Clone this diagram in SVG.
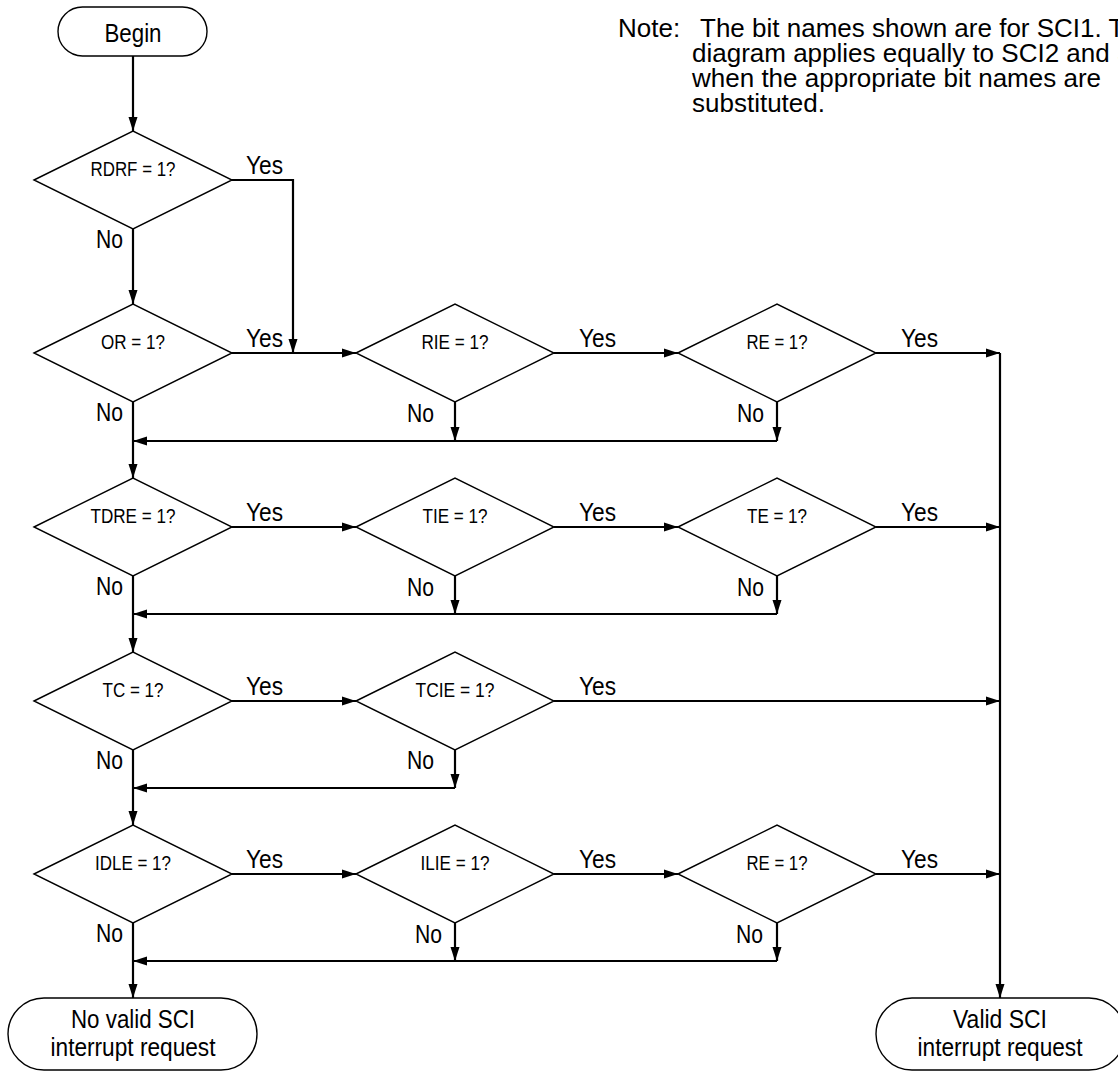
<svg xmlns="http://www.w3.org/2000/svg" width="1118" height="1072" viewBox="0 0 1118 1072">
<defs>
<marker id="ah" markerUnits="userSpaceOnUse" markerWidth="14" markerHeight="10" refX="14" refY="5" orient="auto">
<path d="M0,0.5 L14,5 L0,9.5 z" fill="#000"/>
</marker>
<style>
.shape{fill:#fff;stroke:#000;stroke-width:1.4}
.conn{fill:none;stroke:#000;stroke-width:2.2}
.arr{marker-end:url(#ah)}
.lbl{font-family:"Liberation Sans",Arial,sans-serif;font-size:26px;fill:#000}
.dt{font-family:"Liberation Sans",Arial,sans-serif;font-size:20px;fill:#000;text-anchor:middle}
.tt{font-family:"Liberation Sans",Arial,sans-serif;font-size:26px;fill:#000;text-anchor:middle}
.note{font-family:"Liberation Sans",Arial,sans-serif;font-size:26px;fill:#000}
</style>
</defs>
<rect width="1118" height="1072" fill="#fff"/>

<g id="connectors">
<path class="conn arr" d="M133,56 V131"/>
<path class="conn arr" d="M231,180 H293 V353"/>
<path class="conn arr" d="M133,229 V304"/>
<path class="conn arr" d="M231,353 H356"/>
<path class="conn arr" d="M554,353 H678"/>
<path class="conn arr" d="M876,353 H1000"/>
<path class="conn arr" d="M1000,353 V998"/>
<path class="conn arr" d="M455,402 V441"/>
<path class="conn arr" d="M777,402 V441"/>
<path class="conn arr" d="M777,441 H133"/>
<path class="conn arr" d="M133,402 V478"/>

<path class="conn arr" d="M231,527 H356"/>
<path class="conn arr" d="M554,527 H678"/>
<path class="conn arr" d="M876,527 H1000"/>
<path class="conn arr" d="M455,576 V614"/>
<path class="conn arr" d="M777,576 V614"/>
<path class="conn arr" d="M777,614 H133"/>
<path class="conn arr" d="M133,576 V652"/>

<path class="conn arr" d="M231,701 H356"/>
<path class="conn arr" d="M554,701 H1000"/>
<path class="conn arr" d="M455,750 V788"/>
<path class="conn arr" d="M455,788 H133"/>
<path class="conn arr" d="M133,750 V825"/>

<path class="conn arr" d="M231,874 H356"/>
<path class="conn arr" d="M554,874 H678"/>
<path class="conn arr" d="M876,874 H1000"/>
<path class="conn arr" d="M455,923 V961"/>
<path class="conn arr" d="M777,923 V961"/>
<path class="conn arr" d="M777,961 H133"/>
<path class="conn arr" d="M133,923 V998"/>

<g class="lbl">
<text x="246" y="174" textLength="37" lengthAdjust="spacingAndGlyphs">Yes</text>
<text x="96" y="248" textLength="27" lengthAdjust="spacingAndGlyphs">No</text>
<text x="246" y="347" textLength="37" lengthAdjust="spacingAndGlyphs">Yes</text>
<text x="579" y="347" textLength="37" lengthAdjust="spacingAndGlyphs">Yes</text>
<text x="901" y="347" textLength="37" lengthAdjust="spacingAndGlyphs">Yes</text>
<text x="96" y="421" textLength="27" lengthAdjust="spacingAndGlyphs">No</text>
<text x="407" y="422" textLength="27" lengthAdjust="spacingAndGlyphs">No</text>
<text x="737" y="422" textLength="27" lengthAdjust="spacingAndGlyphs">No</text>
<text x="246" y="521" textLength="37" lengthAdjust="spacingAndGlyphs">Yes</text>
<text x="579" y="521" textLength="37" lengthAdjust="spacingAndGlyphs">Yes</text>
<text x="901" y="521" textLength="37" lengthAdjust="spacingAndGlyphs">Yes</text>
<text x="96" y="595" textLength="27" lengthAdjust="spacingAndGlyphs">No</text>
<text x="407" y="596" textLength="27" lengthAdjust="spacingAndGlyphs">No</text>
<text x="737" y="596" textLength="27" lengthAdjust="spacingAndGlyphs">No</text>
<text x="246" y="695" textLength="37" lengthAdjust="spacingAndGlyphs">Yes</text>
<text x="579" y="695" textLength="37" lengthAdjust="spacingAndGlyphs">Yes</text>
<text x="96" y="769" textLength="27" lengthAdjust="spacingAndGlyphs">No</text>
<text x="407" y="769" textLength="27" lengthAdjust="spacingAndGlyphs">No</text>
<text x="246" y="868" textLength="37" lengthAdjust="spacingAndGlyphs">Yes</text>
<text x="579" y="868" textLength="37" lengthAdjust="spacingAndGlyphs">Yes</text>
<text x="901" y="868" textLength="37" lengthAdjust="spacingAndGlyphs">Yes</text>
<text x="96" y="942" textLength="27" lengthAdjust="spacingAndGlyphs">No</text>
<text x="415" y="943" textLength="27" lengthAdjust="spacingAndGlyphs">No</text>
<text x="736" y="943" textLength="27" lengthAdjust="spacingAndGlyphs">No</text>
</g>
</g>

<g id="begin">
<rect class="shape" x="58" y="7" width="149" height="49" rx="24.5"/>
<text class="tt" x="133" y="42" textLength="57" lengthAdjust="spacingAndGlyphs">Begin</text>
</g>

<g id="rdrf"><polygon class="shape" points="34,180 133,131 232,180 133,229"/><text class="dt" x="133" y="176" textLength="85" lengthAdjust="spacingAndGlyphs">RDRF = 1?</text></g>
<g id="or"><polygon class="shape" points="34,353 133,304 232,353 133,402"/><text class="dt" x="133" y="349" textLength="64" lengthAdjust="spacingAndGlyphs">OR = 1?</text></g>
<g id="rie"><polygon class="shape" points="356,353 455,304 554,353 455,402"/><text class="dt" x="455" y="349" textLength="67" lengthAdjust="spacingAndGlyphs">RIE = 1?</text></g>
<g id="re1"><polygon class="shape" points="678,353 777,304 876,353 777,402"/><text class="dt" x="777" y="349" textLength="61" lengthAdjust="spacingAndGlyphs">RE = 1?</text></g>

<g id="tdre"><polygon class="shape" points="34,527 133,478 232,527 133,576"/><text class="dt" x="133" y="523" textLength="85" lengthAdjust="spacingAndGlyphs">TDRE = 1?</text></g>
<g id="tie"><polygon class="shape" points="356,527 455,478 554,527 455,576"/><text class="dt" x="455" y="523" textLength="65" lengthAdjust="spacingAndGlyphs">TIE = 1?</text></g>
<g id="te"><polygon class="shape" points="678,527 777,478 876,527 777,576"/><text class="dt" x="777" y="523" textLength="60" lengthAdjust="spacingAndGlyphs">TE = 1?</text></g>

<g id="tc"><polygon class="shape" points="34,701 133,652 232,701 133,750"/><text class="dt" x="133" y="697" textLength="61" lengthAdjust="spacingAndGlyphs">TC = 1?</text></g>
<g id="tcie"><polygon class="shape" points="356,701 455,652 554,701 455,750"/><text class="dt" x="455" y="697" textLength="79" lengthAdjust="spacingAndGlyphs">TCIE = 1?</text></g>

<g id="idle"><polygon class="shape" points="34,874 133,825 232,874 133,923"/><text class="dt" x="133" y="870" textLength="76" lengthAdjust="spacingAndGlyphs">IDLE = 1?</text></g>
<g id="ilie"><polygon class="shape" points="356,874 455,825 554,874 455,923"/><text class="dt" x="455" y="870" textLength="69" lengthAdjust="spacingAndGlyphs">ILIE = 1?</text></g>
<g id="re2"><polygon class="shape" points="678,874 777,825 876,874 777,923"/><text class="dt" x="777" y="870" textLength="61" lengthAdjust="spacingAndGlyphs">RE = 1?</text></g>

<g id="novalid">
<rect class="shape" x="8" y="998" width="249" height="72" rx="36"/>
<text class="tt" x="133" y="1028" textLength="124" lengthAdjust="spacingAndGlyphs">No valid SCI</text>
<text class="tt" x="133" y="1056" textLength="165" lengthAdjust="spacingAndGlyphs">interrupt request</text>
</g>

<g id="valid">
<rect class="shape" x="876" y="998" width="249" height="72" rx="36"/>
<text class="tt" x="1000" y="1028" textLength="94" lengthAdjust="spacingAndGlyphs">Valid SCI</text>
<text class="tt" x="1000" y="1056" textLength="165" lengthAdjust="spacingAndGlyphs">interrupt request</text>
</g>

<g id="note" class="note">
<text x="618" y="37">Note:</text>
<text x="700" y="37">The bit names shown are for SCI1. The</text>
<text x="692" y="62">diagram applies equally to SCI2 and SCI3</text>
<text x="692" y="87">when the appropriate bit names are</text>
<text x="692" y="112">substituted.</text>
</g>
</svg>
